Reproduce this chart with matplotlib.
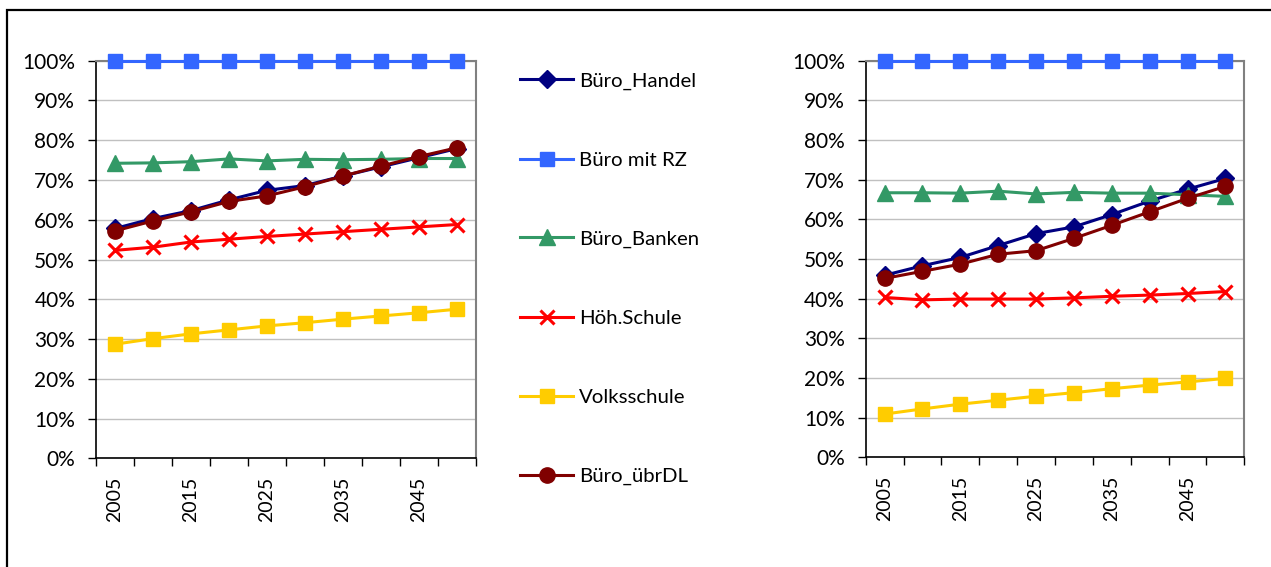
import numpy as np
import matplotlib
matplotlib.use("Agg")
import matplotlib.pyplot as plt
from matplotlib.patches import Rectangle
from matplotlib.ticker import PercentFormatter

plt.rcParams["font.family"] = ["Lato", "DejaVu Sans"]

years = [2005, 2010, 2015, 2020, 2025, 2030, 2035, 2040, 2045, 2050]
names = ["Büro_Handel", "Büro mit RZ", "Büro_Banken", "Höh.Schule", "Volksschule", "Büro_übrDL"]

# left chart (values in %)
left_handel = [57.8, 60.3, 62.3, 65.0, 67.4, 68.6, 71.0, 73.3, 75.6, 77.9]
left_rz = [100, 100, 100, 100, 100, 100, 100, 100, 100, 100]
left_banken = [74.2, 74.3, 74.6, 75.3, 74.8, 75.2, 75.1, 75.2, 75.4, 75.4]
left_schule = [52.3, 53.1, 54.4, 55.1, 55.8, 56.4, 57.0, 57.6, 58.2, 58.8]
left_volks = [28.7, 30.1, 31.3, 32.3, 33.3, 34.1, 35.0, 35.8, 36.6, 37.5]
left_ubrdl = [57.2, 59.7, 62.0, 64.6, 66.0, 68.3, 71.0, 73.5, 75.9, 78.1]

# right chart (values in %)
right_handel = [45.9, 48.3, 50.4, 53.4, 56.4, 58.1, 61.2, 64.6, 67.6, 70.3]
right_rz = [100, 100, 100, 100, 100, 100, 100, 100, 100, 100]
right_banken = [66.7, 66.7, 66.6, 67.1, 66.4, 66.8, 66.6, 66.6, 66.2, 65.8]
right_schule = [40.3, 39.7, 39.9, 39.9, 39.9, 40.2, 40.6, 40.9, 41.3, 41.8]
right_volks = [10.9, 12.2, 13.4, 14.4, 15.4, 16.3, 17.3, 18.2, 19.0, 19.9]
right_ubrdl = [45.1, 46.9, 48.7, 51.2, 52.1, 55.2, 58.5, 61.9, 65.3, 68.3]

colors = ["#000080", "#3366FF", "#339966", "#FF0000", "#FFCC00", "#800000"]
markers = ["D", "s", "^", "x", "s", "o"]
msizes = [9, 10.5, 11, 10, 10.5, 11]

fig = plt.figure(figsize=(12.71, 5.67), dpi=100)

# outer frame
fig.patches.append(Rectangle((7 / 1271, -0.05), 1.1, 1 - 10 / 567 + 0.05,
                             transform=fig.transFigure, fill=False,
                             edgecolor="black", linewidth=1.6))

ax1 = fig.add_axes([96 / 1271, 1 - 458.3 / 567, 380 / 1271, 397.6 / 567])
ax2 = fig.add_axes([865.7 / 1271, 1 - 457.3 / 567, 378.6 / 1271, 396.6 / 567])

left_data = [left_handel, left_rz, left_banken, left_schule, left_volks, left_ubrdl]
right_data = [right_handel, right_rz, right_banken, right_schule, right_volks, right_ubrdl]

x = np.arange(len(years))

for ax, data in [(ax1, left_data), (ax2, right_data)]:
    for i, vals in enumerate(data):
        mew = 2.2 if markers[i] == "x" else 1
        ax.plot(x, vals, color=colors[i], marker=markers[i], markersize=msizes[i],
                linewidth=2.2, markeredgewidth=mew, markeredgecolor=colors[i],
                label=names[i], clip_on=False, zorder=3 + (i == 5))
    ax.set_xlim(-0.5, 9.5)
    ax.set_ylim(0, 100)
    ax.set_yticks(np.arange(0, 101, 10))
    ax.yaxis.set_major_formatter(PercentFormatter(decimals=0))
    ax.grid(axis="y", color="#C0C0C0", linewidth=1)
    ax.set_axisbelow(True)
    ax.set_xticks(np.arange(-0.5, 10, 1))
    ax.set_xticklabels([])
    ax.set_xticks(x[::2], minor=True)
    ax.set_xticklabels([str(y) for y in years[::2]], minor=True, rotation=90)
    ax.tick_params(axis="x", which="major", direction="out", length=6, width=1, color="black")
    ax.tick_params(axis="x", which="minor", length=0, pad=13, labelsize=14)
    ax.tick_params(axis="y", direction="out", length=6, width=1, labelsize=15, pad=9)
    for s in ["top", "right"]:
        ax.spines[s].set_color("#808080")
        ax.spines[s].set_linewidth(1.5)
    for s in ["left", "bottom"]:
        ax.spines[s].set_color("black")
        ax.spines[s].set_linewidth(1.2)

handles, labels = ax1.get_legend_handles_labels()
fig.legend(handles, labels, loc="upper left", bbox_to_anchor=(512 / 1271, 1 - 64 / 567),
           frameon=False, fontsize=14.7, labelspacing=3.02, handlelength=2.6,
           handletextpad=0.3, borderaxespad=0)

fig.savefig("out.png", dpi=100)
